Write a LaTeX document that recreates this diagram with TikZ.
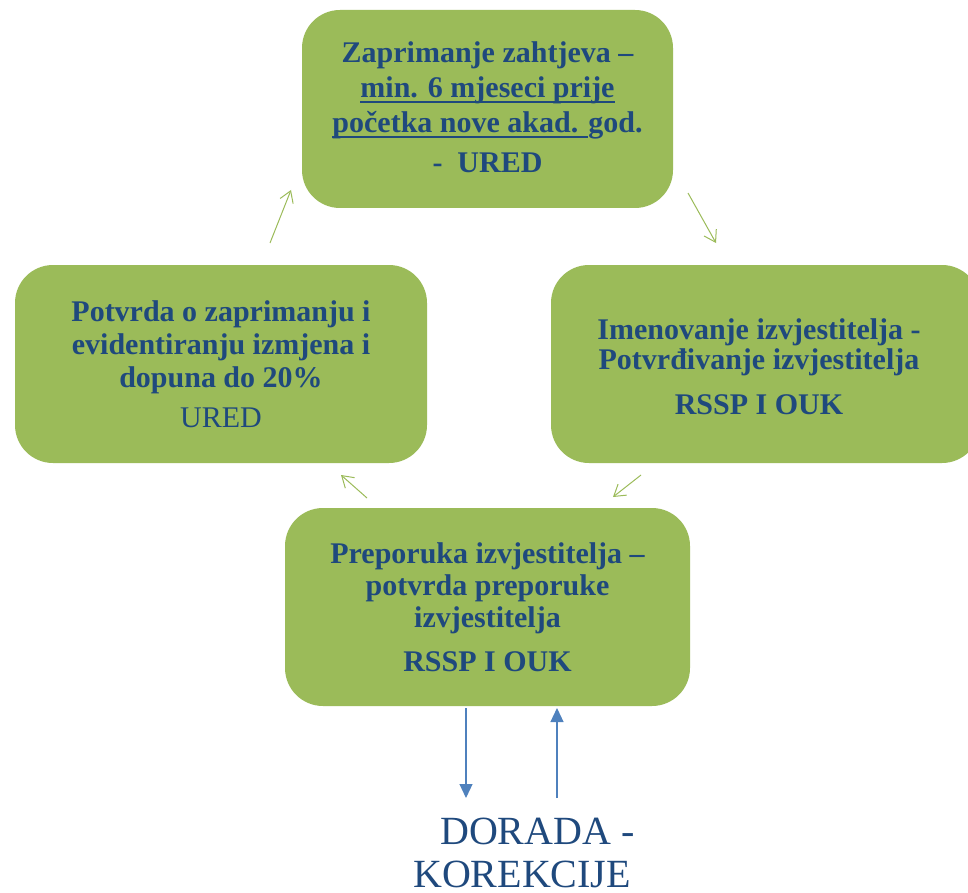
\documentclass[tikz,border=0pt]{standalone}
\usepackage{fontspec}
\setmainfont{Liberation Serif}
\usetikzlibrary{arrows.meta}
\definecolor{boxgreen}{HTML}{9BBB59}
\definecolor{txtblue}{HTML}{1F497D}
\definecolor{arrblue}{HTML}{4F81BD}
\newcommand\myul[1]{\setbox0\hbox{#1}\rlap{\rule[-5pt]{\wd0}{1.8pt}}\box0}
\tikzset{
  stagebox/.style={text=txtblue, align=center,
    font=\fontsize{30}{33}\selectfont\bfseries},
  boxfill/.style={fill=boxgreen, rounded corners=38pt},
  greenarrow/.style={draw=boxgreen, line width=1pt, -{Straight Barb[length=11pt,width=14pt]}},
  bluearrow/.style={draw=arrblue, line width=1.2pt, -{Triangle[length=14pt,width=13pt]}},
  doradatext/.style={text=txtblue, font=\fontsize{40}{48}\selectfont, inner sep=0pt, anchor=base west},
}
\begin{document}
\begin{tikzpicture}[x=1pt,y=-1pt]
\useasboundingbox (0,0) rectangle (968,893);
% boxes
\fill[boxfill] (302,10) rectangle (673,208);
\node[stagebox, font=\fontsize{30}{35}\selectfont\bfseries] (top) at (487.5,107.5) {Zaprimanje zahtjeva --\\ \myul{min. 6 mjeseci prije}\\ \myul{početka nove akad. }god.\\[5pt] -\ \ URED};
\fill[boxfill] (15,265) rectangle (427,463);
\node[stagebox] (left) at (221,364) {Potvrda o zaprimanju i\\ evidentiranju izmjena i\\ dopuna do 20\%\\[7pt] {\mdseries URED}};
\fill[boxfill] (551,265) rectangle (980,463);
\node[stagebox, font=\fontsize{30}{30}\selectfont\bfseries] (right) at (759,367) {Imenovanje izvjestitelja -\\ Potvrđivanje izvjestitelja\\[15pt] RSSP I OUK};
\fill[boxfill] (285,508) rectangle (690,706);
\node[stagebox, font=\fontsize{30}{32}\selectfont\bfseries] (bottom) at (487.5,607) {Preporuka izvjestitelja --\\ potvrda preporuke\\ izvjestitelja\\[12pt] RSSP I OUK};
% green arrows
\coordinate (a1s) at (270,243); \coordinate (a1e) at (291,190);
\coordinate (a2s) at (688,193); \coordinate (a2e) at (716,243);
\coordinate (a3s) at (641,475); \coordinate (a3e) at (613,497);
\coordinate (a4s) at (367,498); \coordinate (a4e) at (341,475);
\draw[greenarrow] (a1s) -- (a1e);
\draw[greenarrow] (a2s) -- (a2e);
\draw[greenarrow] (a3s) -- (a3e);
\draw[greenarrow] (a4s) -- (a4e);
% blue arrows
\coordinate (b1s) at (466,708); \coordinate (b1e) at (466,798);
\coordinate (b2s) at (557,798); \coordinate (b2e) at (557,708);
\draw[bluearrow] (b1s) -- (b1e);
\draw[bluearrow] (b2s) -- (b2e);
% label
\node[doradatext] (dorada) at (440,844) {DORADA -};
\node[doradatext] (korekcije) at (413,887) {KOREKCIJE};
\end{tikzpicture}
\end{document}
